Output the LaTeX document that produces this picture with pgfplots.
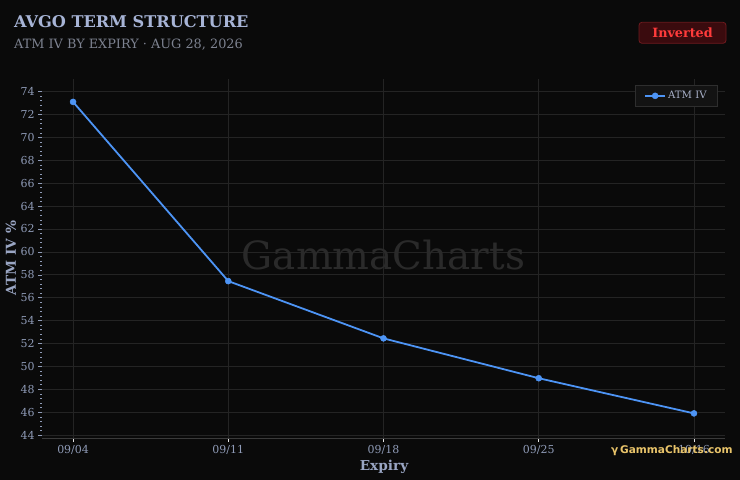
\documentclass[border=0pt]{standalone}
\usepackage{fontspec}
\setmainfont{DejaVu Serif}
\newfontfamily\logofont{DejaVu Sans}
\usepackage{pgfplots}
\pgfplotsset{compat=1.18}
\definecolor{bg}{HTML}{0A0A0A}
\definecolor{gridc}{HTML}{242424}
\definecolor{axisc}{HTML}{3A3A3A}
\definecolor{titlec}{HTML}{A7B4D6}
\definecolor{subc}{HTML}{7D8290}
\definecolor{ticklab}{HTML}{8F9BB7}
\definecolor{labc}{HTML}{9AA6C4}
\definecolor{linec}{HTML}{4D94F5}
\definecolor{wm}{HTML}{2A2A2A}
\definecolor{badgefill}{HTML}{3A0B0E}
\definecolor{badgeborder}{HTML}{6E1A1E}
\definecolor{badgetext}{HTML}{FF3B3B}
\definecolor{legfill}{HTML}{131313}
\definecolor{legdraw}{HTML}{2E2E2E}
\definecolor{legtext}{HTML}{A8B0C8}
\definecolor{gold}{HTML}{E9C46A}
\begin{document}
\begin{tikzpicture}
\useasboundingbox (0,0) rectangle (740bp,480bp);
\fill[bg] (0,0) rectangle (740bp,480bp);
\node[anchor=base west, font=\bfseries\fontsize{16.2}{19}\selectfont, text=titlec, inner sep=0] at (14bp,452.5bp) {AVGO TERM STRUCTURE};
\node[anchor=base west, font=\fontsize{12.9}{15}\selectfont, text=subc, inner sep=0] at (14bp,431.7bp) {ATM IV BY EXPIRY · AUG 28, 2026};
\draw[badgeborder, fill=badgefill, rounded corners=3bp, line width=0.8bp] (639bp,436.7bp) rectangle (726bp,457.7bp);
\node[font=\bfseries\fontsize{12.8}{15}\selectfont, text=badgetext] at (682.5bp,447.2bp) {Inverted};
\begin{axis}[
  at={(42bp,42bp)}, anchor=south west,
  scale only axis, width=683bp, height=359bp,
  xmin=-0.2, xmax=4.2, ymin=43.75, ymax=75.1,
  xtick={0,1,2,3,4}, xticklabels={09/04,09/11,09/18,09/25,10/16},
  ytick={44,46,...,74},
  minor y tick num=4,
  axis x line*=bottom, axis y line*=left,
  x axis line style={draw=axisc, line width=0.8bp, -},
  y axis line style={draw=none},
  grid=major,
  major grid style={draw=gridc, line width=0.8bp},
  tick align=outside,
  major tick length=4bp, minor tick length=1.5bp,
  xtick style={draw=white!90!black, line width=0.8bp},
  ytick style={draw=ticklab, line width=0.6bp},
  ticklabel style={font=\fontsize{11}{13}\selectfont, text=ticklab},
  /pgf/number format/assume math mode=true,
  legend style={at={(1,1)}, anchor=north east, xshift=-7bp, yshift=-6bp,
    fill=legfill, draw=legdraw, line width=0.8bp, text=legtext,
    font=\fontsize{10.2}{12}\selectfont, inner xsep=9bp, inner ysep=4bp},
  legend image code/.code={\draw[mark repeat=2,mark phase=2] plot coordinates {(0bp,0bp)(10bp,0bp)(20bp,0bp)};},
]
\node[text=wm, font=\fontsize{39}{44}\selectfont] at (axis cs:2,59.7) {GammaCharts};
\addplot[color=linec, line width=1.8bp, mark=*, mark size=3bp, mark options={fill=linec, draw=linec, line width=0.5bp}]
  coordinates {(0,73.1) (1,57.45) (2,52.45) (3,48.97) (4,45.9)};
\addlegendentry{ATM IV}
\end{axis}
\node[font=\bfseries\fontsize{13.7}{16}\selectfont, text=labc] at (384bp,13bp) {Expiry};
\node[rotate=90, font=\bfseries\fontsize{13.7}{16}\selectfont, text=labc] at (11bp,222bp) {ATM IV \%};
\node[anchor=base west, inner sep=0, font=\logofont\bfseries\fontsize{10.6}{12}\selectfont, text=gold] at (611bp,27bp) {γ\,GammaCharts.com};
\end{tikzpicture}
\end{document}
